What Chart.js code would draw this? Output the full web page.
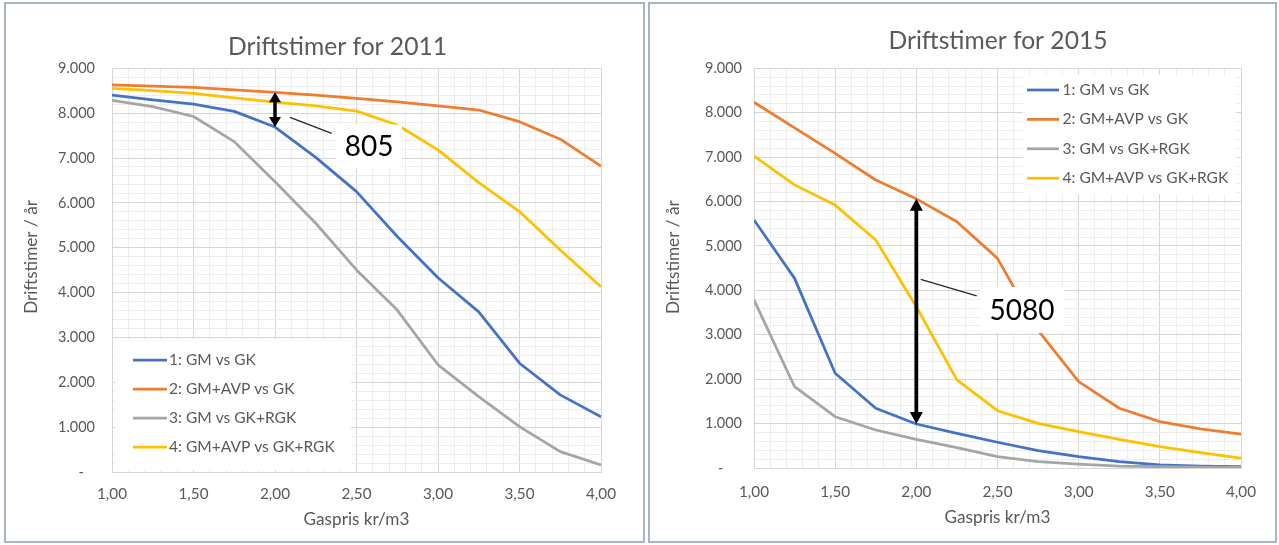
<!DOCTYPE html>
<html><head><meta charset="utf-8">
<script src="https://cdn.jsdelivr.net/npm/chart.js@4.4.1/dist/chart.umd.min.js"></script>
<style>
html,body{margin:0;padding:0;background:#fff;width:1279px;height:545px;overflow:hidden;}
.panel{position:absolute;box-sizing:border-box;border:2px solid #a9b5c5;background:#fff;}
canvas{position:absolute;top:0;}
</style></head><body>
<div class="panel" style="left:4px;top:2px;width:641px;height:541px"></div>
<div class="panel" style="left:648px;top:2px;width:629px;height:541px"></div>
<canvas id="c2011" width="645" height="545" style="left:0;width:645px;height:545px"></canvas>
<canvas id="c2015" width="633" height="545" style="left:646px;width:633px;height:545px"></canvas>
<script>
// ---------------- data ----------------
const gasPrices = [1.00, 1.25, 1.50, 1.75, 2.00, 2.25, 2.50, 2.75, 3.00, 3.25, 3.50, 3.75, 4.00];
const seriesNames = ['1: GM vs GK', '2: GM+AVP vs GK', '3: GM vs GK+RGK', '4: GM+AVP vs GK+RGK'];

const gmVsGk2011        = [8400, 8295, 8200, 8040, 7690, 7015, 6250, 5250, 4330, 3570, 2425, 1720, 1230];
const gmAvpVsGk2011     = [8630, 8605, 8575, 8520, 8465, 8400, 8330, 8250, 8160, 8070, 7810, 7420, 6820];
const gmVsGkRgk2011     = [8285, 8145, 7925, 7365, 6470, 5545, 4505, 3610, 2390, 1680, 1010, 455, 155];
const gmAvpVsGkRgk2011  = [8555, 8500, 8440, 8340, 8245, 8160, 8045, 7735, 7180, 6450, 5805, 4950, 4130];

const gmVsGk2015        = [5585, 4270, 2135, 1345, 990, 780, 580, 390, 255, 145, 70, 45, 30];
const gmAvpVsGk2015     = [8235, 7660, 7085, 6485, 6060, 5545, 4720, 3100, 1945, 1345, 1045, 880, 760];
const gmVsGkRgk2015     = [3785, 1830, 1155, 855, 645, 460, 255, 145, 85, 45, 30, 20, 15];
const gmAvpVsGkRgk2015  = [7025, 6375, 5920, 5135, 3630, 1985, 1290, 1005, 820, 645, 480, 345, 220];

const xTickValues = [1.0, 1.5, 2.0, 2.5, 3.0, 3.5, 4.0];
const xTickLabels = ['1,00', '1,50', '2,00', '2,50', '3,00', '3,50', '4,00'];
const yTickValues = [0, 1000, 2000, 3000, 4000, 5000, 6000, 7000, 8000, 9000];
const yTickLabels = ['-', '1.000', '2.000', '3.000', '4.000', '5.000', '6.000', '7.000', '8.000', '9.000'];
const chartTitles = ['Driftstimer for 2011', 'Driftstimer for 2015'];
const xAxisTitle = 'Gaspris kr/m3';
const yAxisTitle = 'Driftstimer / år';
const noteLabels = ['805', '5080'];

// ---------------- styles ----------------
const FONT = 'Lato, "Open Sans", sans-serif';
const TEXT = '#595959';
const MAJOR = '#d6d6d6';
const MINOR = '#ededed';
const seriesColors = ['#4472C4', '#ED7D31', '#A5A5A5', '#FFC000'];

const mctx = document.createElement('canvas').getContext('2d');
function textW(text, size) { mctx.font = size + 'px ' + FONT; return mctx.measureText(text).width; }
function fitSize(text, target) { return 100 * target / textW(text, 100); }

const titleSize = fitSize('Driftstimer for 2011', 219);
const legendSize = fitSize('4: GM+AVP vs GK+RGK', 166);
const axisTitleSize = fitSize('Gaspris kr/m3', 106);
const xTickSize = fitSize('1,00', 30);
const yTickSize = fitSize('9.000', 37);
const noteSize = fitSize('5080', 65);

Chart.defaults.font.family = FONT;

const decor = {
  id: 'excelDecor',
  afterLayout(chart, args, o) {
    const tb = chart.titleBlock;
    if (tb && o.titleCX != null) {
      const w = tb.right - tb.left;
      tb.left = o.titleCX - w / 2; tb.right = o.titleCX + w / 2;
    }
  },
  afterDatasetsDraw(chart, args, o) {
    const ctx = chart.ctx, ca = chart.chartArea, xs = chart.scales.x, ys = chart.scales.y;
    ctx.save();
    // legend
    const lg = o.legend;
    ctx.fillStyle = '#ffffff';
    ctx.fillRect(ca.left + lg.box[0], ca.top + lg.box[1], lg.box[2], lg.box[3]);
    ctx.font = legendSize + 'px ' + FONT;
    ctx.textBaseline = 'middle'; ctx.textAlign = 'left';
    chart.data.datasets.forEach((ds, i) => {
      const y = ca.top + lg.firstY + i * lg.gap;
      ctx.strokeStyle = ds.borderColor; ctx.lineWidth = ds.borderWidth; ctx.lineCap = 'butt';
      ctx.beginPath(); ctx.moveTo(ca.left + lg.sample[0], y); ctx.lineTo(ca.left + lg.sample[1], y); ctx.stroke();
      ctx.fillStyle = TEXT; ctx.fillText(ds.label, ca.left + lg.textX, y);
    });
    // double arrow between two series at one price
    const a = o.arrow;
    const idx = gasPrices.indexOf(a.x);
    const px = xs.getPixelForValue(a.x);
    const yA = ys.getPixelForValue(chart.data.datasets[a.top].data[idx].y);
    const yB = ys.getPixelForValue(chart.data.datasets[a.bottom].data[idx].y);
    ctx.strokeStyle = '#000'; ctx.fillStyle = '#000'; ctx.lineWidth = a.width;
    ctx.beginPath(); ctx.moveTo(px, yA + a.head - 1); ctx.lineTo(px, yB - a.head + 1); ctx.stroke();
    ctx.beginPath(); ctx.moveTo(px, yA); ctx.lineTo(px - a.half, yA + a.head); ctx.lineTo(px + a.half, yA + a.head); ctx.closePath(); ctx.fill();
    ctx.beginPath(); ctx.moveTo(px, yB); ctx.lineTo(px - a.half, yB - a.head); ctx.lineTo(px + a.half, yB - a.head); ctx.closePath(); ctx.fill();
    // leader line
    const n = o.note;
    ctx.strokeStyle = '#262626'; ctx.lineWidth = 1.3;
    ctx.beginPath();
    ctx.moveTo(xs.getPixelForValue(n.leader[0][0]), ys.getPixelForValue(n.leader[0][1]));
    ctx.lineTo(xs.getPixelForValue(n.leader[1][0]), ys.getPixelForValue(n.leader[1][1]));
    ctx.stroke();
    // note label
    const cx = xs.getPixelForValue(n.at[0]), cy = ys.getPixelForValue(n.at[1]);
    ctx.fillStyle = '#ffffff';
    ctx.fillRect(cx - n.box[0] / 2, cy - n.box[1] / 2, n.box[0], n.box[1]);
    ctx.fillStyle = '#000000';
    ctx.font = noteSize + 'px ' + FONT;
    ctx.textAlign = 'center'; ctx.textBaseline = 'middle';
    ctx.fillText(n.text, cx, cy + 1);
    ctx.restore();
  }
};

function makeChart(id, title, series, P) {
  const spaceX = textW(' ', yTickSize);
  const dashPad = ' '.repeat(Math.max(0, Math.round((P.area.l - P.yTickPad - P.dashRight) / spaceX)));
  const spaceT = textW(' ', axisTitleSize);
  const yShift = (P.area.t + P.area.b) / 2 - P.yTitleCY;
  const yTitlePad = ' '.repeat(Math.max(0, Math.round(2 * yShift / spaceT)));
  const Lt = titleSize * 1.2;
  const tPadT = P.titleCY - Lt / 2;
  const tPadB = P.area.t - tPadT - Lt;
  const xTickPad = P.xTickCY - P.area.b - xTickSize * 0.6;
  const xTitlePadB = P.canvasH - P.xTitleCY - axisTitleSize * 0.6;
  const yTitlePadT = P.yTitleCX - axisTitleSize * 0.6;

  const xLabel = v => {
    for (let i = 0; i < xTickValues.length; i++) if (Math.abs(v - xTickValues[i]) < 1e-6) return xTickLabels[i];
    return '';
  };
  const yLabel = v => {
    const r = Math.round(v);
    const i = yTickValues.indexOf(r);
    if (i < 0) return '';
    return i === 0 ? yTickLabels[0] + dashPad : yTickLabels[i];
  };
  const isMajorX = v => xTickValues.some(t => Math.abs(v - t) < 1e-6);

  return new Chart(document.getElementById(id), {
    type: 'line',
    data: {
      datasets: series.map((vals, i) => ({
        label: seriesNames[i],
        data: gasPrices.map((g, j) => ({ x: g, y: vals[j] })),
        borderColor: seriesColors[i],
        backgroundColor: seriesColors[i],
        borderWidth: 2.75,
        pointRadius: 0,
        tension: 0,
        fill: false,
        borderJoinStyle: 'round',
        order: series.length - i
      }))
    },
    options: {
      responsive: false,
      animation: false,
      events: [],
      layout: { padding: { left: 0, right: P.canvasW - P.area.r, top: 0, bottom: 0 } },
      plugins: {
        legend: { display: false },
        tooltip: { enabled: false },
        title: { display: true, text: title, color: TEXT, font: { size: titleSize, weight: 'normal' }, padding: { top: tPadT, bottom: tPadB } },
        excelDecor: { titleCX: P.titleCX, legend: P.legend, arrow: P.arrow, note: P.note }
      },
      scales: {
        x: {
          type: 'linear', min: 1, max: 4,
          ticks: { stepSize: 0.1, autoSkip: false, maxRotation: 0, minRotation: 0, padding: xTickPad, color: TEXT, font: { size: xTickSize }, callback: xLabel },
          grid: { drawTicks: false, lineWidth: 1, color: c => (c.tick && isMajorX(c.tick.value)) ? MAJOR : MINOR },
          border: { color: MAJOR },
          title: { display: true, text: xAxisTitle, color: TEXT, font: { size: axisTitleSize }, padding: { top: 0, bottom: xTitlePadB } },
          afterFit: s => { s.height = P.canvasH - P.area.b; }
        },
        y: {
          type: 'linear', min: 0, max: 9000,
          ticks: { stepSize: 200, autoSkip: false, padding: P.yTickPad, color: TEXT, font: { size: yTickSize }, callback: yLabel },
          grid: { drawTicks: false, lineWidth: 1, color: c => (c.tick && Math.round(c.tick.value) % 1000 === 0) ? MAJOR : MINOR },
          border: { color: MAJOR },
          title: { display: true, text: yTitlePad + yAxisTitle, color: TEXT, font: { size: axisTitleSize }, padding: { top: yTitlePadT, bottom: 0 } },
          afterFit: s => { s.width = P.area.l; }
        }
      }
    },
    plugins: [decor]
  });
}

makeChart('c2011', chartTitles[0], [gmVsGk2011, gmAvpVsGk2011, gmVsGkRgk2011, gmAvpVsGkRgk2011], {
  canvasW: 645, canvasH: 545,
  area: { l: 112, r: 601, t: 68.3, b: 472 },
  titleCX: 337.5, titleCY: 47,
  xTickCY: 494, xTitleCY: 519.5,
  yTitleCX: 31, yTitleCY: 257,
  yTickPad: 17, dashRight: 83,
  legend: { box: [3, 270.7, 236, 131], firstY: 291.7, gap: 29, sample: [21, 55], textX: 57 },
  arrow: { x: 2.00, top: 1, bottom: 0, width: 3.5, head: 10, half: 6 },
  note: { text: noteLabels[0], at: [2.577, 7267], box: [66, 43], leader: [[2.092, 7907], [2.348, 7550]] }
});

makeChart('c2015', chartTitles[1], [gmVsGk2015, gmAvpVsGk2015, gmVsGkRgk2015, gmAvpVsGkRgk2015], {
  canvasW: 633, canvasH: 545,
  area: { l: 108, r: 595, t: 68.3, b: 468 },
  titleCX: 352, titleCY: 41.5,
  xTickCY: 492, xTitleCY: 517,
  yTitleCX: 27.6, yTitleCY: 257.5,
  yTickPad: 12, dashRight: 78,
  legend: { box: [269, 6.7, 213, 119], firstY: 21.7, gap: 29.4, sample: [273, 305], textX: 308.5 },
  arrow: { x: 2.00, top: 1, bottom: 0, width: 3.8, head: 12, half: 6.5 },
  note: { text: noteLabels[1], at: [2.651, 3558], box: [84, 46], leader: [[2.027, 4249], [2.372, 3873]] }
});
</script>
</body></html>
